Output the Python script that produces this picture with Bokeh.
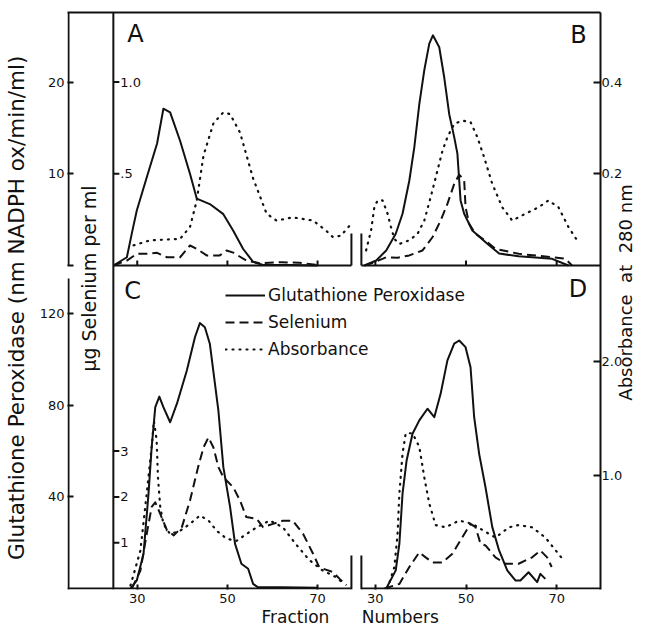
import math
from bokeh.plotting import figure
from bokeh.models import (Range1d, LinearAxis, FixedTicker, Span, Arrow, Label, LabelSet,
                          ColumnDataSource, Legend, LegendItem, PrintfTickFormatter)
from bokeh.core.properties import value
from bokeh.embed import file_html
from bokeh.resources import INLINE

# ---------------- data (fraction number -> value) ----------------
# Panel A
a_gpx_f = [24.7, 27.7, 28.8, 29.9, 32.1, 34.4, 35.8, 37.3, 39.5, 41.7, 43.2, 46.1, 49.1, 51.3, 53.5, 55.7, 57.9, 64.0, 70.0]
a_gpx = [0, 0.9, 3.5, 6.0, 9.6, 13.3, 17.1, 16.7, 13.6, 10.0, 7.3, 6.7, 5.6, 3.8, 1.8, 0.4, 0.05, 0.05, 0.0]
a_se_f = [24.7, 27.7, 29.9, 32.1, 34.4, 36.6, 39.5, 41.7, 43.2, 45.4, 48.3, 49.8, 51.3, 54.2, 57.2, 62.0, 66.0, 70.0]
a_se = [0, 0.027, 0.064, 0.064, 0.069, 0.045, 0.045, 0.109, 0.091, 0.055, 0.055, 0.082, 0.070, 0.027, 0.012, 0.018, 0.015, 0.003]
a_abs_f = [29.2, 32.9, 39.5, 41.7, 43.2, 44.7, 46.9, 49.1, 50.6, 52.8, 55.7, 58.7, 60.9, 64.5, 69.0, 71.9, 73.4, 75.2, 77.1]
a_abs = [0.044, 0.055, 0.058, 0.084, 0.142, 0.24, 0.31, 0.334, 0.33, 0.29, 0.19, 0.113, 0.098, 0.105, 0.098, 0.076, 0.062, 0.065, 0.087]

# Panel B
b_gpx_f = [27.6, 30.2, 32.4, 34.5, 36.0, 37.5, 38.6, 39.7, 40.8, 41.9, 42.7, 44.1, 45.2, 46.3, 47.4, 48.1, 48.5, 48.8, 49.6, 51.4, 54.7, 57.3, 61.6, 69.0, 72.6]
b_gpx = [0, 0.55, 1.64, 3.46, 5.64, 9.27, 12.9, 17.6, 21.3, 24.2, 25.1, 23.8, 20.5, 16.5, 14.0, 12.2, 9.27, 7.1, 5.64, 3.82, 2.37, 1.3, 1.0, 0.73, 0]
b_se_f = [27.6, 29.8, 32.4, 34.9, 37.5, 40.4, 42.6, 44.4, 45.9, 47.4, 48.5, 49.6, 49.9, 50.7, 52.1, 54.7, 56.5, 61.6, 69.0, 71.9, 73.4]
b_se = [0, 0.018, 0.045, 0.042, 0.055, 0.082, 0.154, 0.245, 0.336, 0.445, 0.496, 0.464, 0.318, 0.227, 0.173, 0.127, 0.091, 0.064, 0.045, 0.037, 0]
b_abs_f = [27.96, 29.05, 29.78, 30.5, 31.6, 32.7, 33.45, 34.2, 35.3, 37.5, 39.3, 40.8, 42.2, 43.7, 44.8, 45.9, 47.4, 49.2, 51.0, 52.5, 54.0, 55.8, 58.0, 60.2, 63.1, 66.0, 68.2, 70.4, 72.6, 74.5]
b_abs = [0.033, 0.076, 0.127, 0.142, 0.142, 0.113, 0.084, 0.058, 0.047, 0.055, 0.069, 0.098, 0.149, 0.207, 0.25, 0.28, 0.309, 0.316, 0.313, 0.28, 0.236, 0.178, 0.127, 0.098, 0.113, 0.127, 0.142, 0.127, 0.084, 0.055]

# Panel C
c_gpx_f = [28.5, 29.9, 31.4, 32.5, 33.2, 34.0, 34.9, 35.8, 37.3, 38.8, 41.0, 42.8, 43.9, 45.0, 46.1, 48.0, 49.1, 50.6, 51.7, 53.1, 54.6, 55.7, 56.8, 62.0, 70.0]
c_gpx = [0, 3.5, 15.2, 41.4, 61.7, 79.2, 83.8, 79.2, 72.6, 80.7, 95.2, 109.7, 115.9, 114.1, 106.9, 77.7, 53.0, 35.5, 19.5, 10.8, 8.6, 2.0, 0.5, 0.5, 0.3]
c_se_f = [28.8, 30.7, 32.1, 33.2, 34.0, 35.1, 36.6, 38.1, 39.9, 41.7, 43.5, 44.7, 45.8, 46.9, 48.0, 49.1, 51.3, 52.8, 54.2, 56.5, 57.9, 60.1, 62.3, 64.5, 66.8, 69.0, 70.4, 73.4, 74.9, 76.4]
c_se = [0, 0.39, 1.19, 1.78, 1.88, 1.63, 1.27, 1.16, 1.34, 1.92, 2.65, 3.08, 3.30, 3.08, 2.65, 2.43, 2.21, 1.92, 1.56, 1.52, 1.34, 1.41, 1.48, 1.48, 1.19, 0.76, 0.46, 0.36, 0.21, 0.07]
c_abs_f = [28.5, 30.7, 32.1, 33.2, 33.7, 34.3, 34.6, 35.1, 35.8, 37.3, 39.5, 41.7, 43.9, 45.8, 47.6, 49.8, 52.0, 54.2, 56.5, 59.4, 62.3, 65.2, 68.2, 71.1, 74.1, 75.9]
c_abs = [0.026, 0.335, 0.836, 1.25, 1.48, 1.31, 0.98, 0.72, 0.57, 0.48, 0.51, 0.57, 0.644, 0.60, 0.51, 0.44, 0.42, 0.48, 0.54, 0.60, 0.54, 0.39, 0.25, 0.16, 0.10, 0.04]

# Panel D
d_gpx_f = [32.4, 34.5, 35.3, 36.0, 36.9, 38.2, 39.7, 41.5, 43.0, 44.4, 45.9, 47.4, 48.5, 49.9, 51.0, 51.8, 52.9, 54.3, 55.8, 57.3, 59.1, 60.9, 62.0, 63.8, 65.7, 66.4, 67.5]
d_gpx = [0, 7.9, 19.5, 41.4, 55.9, 67.6, 73.4, 78.5, 74.8, 85.0, 99.6, 106.9, 108.3, 105.4, 96.6, 74.8, 58.8, 44.2, 26.8, 16.6, 7.9, 3.5, 3.5, 7.1, 2.8, 6.4, 4.2]
d_se_f = [32.0, 35.3, 37.5, 39.7, 41.1, 42.6, 44.8, 47.0, 49.2, 51.0, 52.1, 53.2, 54.3, 56.5, 58.7, 61.6, 64.6, 66.4, 67.9, 68.9]
d_se = [0, 0.10, 0.47, 0.79, 0.68, 0.57, 0.57, 0.76, 1.12, 1.41, 1.34, 0.98, 0.94, 0.68, 0.54, 0.54, 0.68, 0.83, 0.68, 0.47]
d_abs_f = [32.7, 34.2, 34.9, 35.3, 36.0, 36.7, 38.2, 39.7, 40.8, 41.9, 43.3, 45.5, 48.5, 51.4, 54.3, 56.5, 59.5, 61.6, 64.6, 67.5, 69.7, 71.5]
d_abs = [0, 0.19, 0.48, 0.84, 1.19, 1.37, 1.37, 1.25, 0.98, 0.75, 0.56, 0.54, 0.60, 0.57, 0.50, 0.45, 0.54, 0.56, 0.54, 0.45, 0.34, 0.25]

# ticks
x_ticks = [30, 50, 70]
top_gpx_ticks = [0, 10, 20]
bot_gpx_ticks = [40, 80, 120]
top_se_ticks = [0.5, 1.0]
top_se_labels = [".5", "1.0"]
bot_se_ticks = [1, 2, 3]
top_abs_ticks = [0.2, 0.4]
bot_abs_ticks = [1.0, 2.0]

# ---------------- scales ----------------
XL = (14.53, 132.76)      # left panels (A, C)
XR = (-37.91, 79.67)      # right panels (B, D)
GB = (-0.437, 251.53)     # bottom-row peroxidase
GT = (-35.33, 27.59)      # top-row peroxidase
SE_F = 20.0               # selenium = peroxidase / 20
AT_F = 50.0               # top absorbance = peroxidase / 50
AB_F = 49.48              # bottom absorbance = peroxidase / 49.5
XL_INNER = 24.70          # inner selenium axis
XL_SPLIT = 77.51          # right edge of A / C
XR_SPLIT = 26.92          # left edge of B / D
GT_STUB = 3.5
GB_STUB = 14.4
GB_LEFT_TOP = 135.4       # upper end of the lower left axis segment

def lin(v, src, dst):
    return dst[0] + (v - src[0]) * (dst[1] - dst[0]) / (src[1] - src[0])

def gt_to_gb(v):
    return lin(v, GT, GB)

def at_to_ab(v):
    return gt_to_gb(v * AT_F) / AB_F

def xr_to_xl(v):
    return lin(v, XR, XL)

FONT = "DejaVu Sans"
INK = "#111111"
DASH = "9 5"
DOT = "1 6"
NB = "\u00a0"

p = figure(width=649, height=632, x_range=Range1d(*XL), y_range=Range1d(*GB),
           x_axis_type=None, y_axis_type=None, output_backend="svg", toolbar_location=None,
           min_border_left=67, min_border_right=47, min_border_top=12, min_border_bottom=43)
p.outline_line_color = None
p.background_fill_color = "white"
p.border_fill_color = "white"
p.extra_x_ranges = {"xr": Range1d(*XR)}
p.extra_y_ranges = {
    "gt": Range1d(*GT),
    "st": Range1d(GT[0] / SE_F, GT[1] / SE_F),
    "at": Range1d(GT[0] / AT_F, GT[1] / AT_F),
    "sb": Range1d(GB[0] / SE_F, GB[1] / SE_F),
    "ab": Range1d(GB[0] / AB_F, GB[1] / AB_F),
}

def style_axis(ax):
    ax.axis_line_width = 2
    ax.axis_line_color = INK
    ax.major_tick_line_width = 2
    ax.major_tick_line_color = INK
    ax.minor_tick_line_color = None
    ax.major_tick_out = 0
    ax.major_label_text_font = FONT
    ax.major_label_text_font_size = "13px"
    ax.major_label_text_color = INK
    ax.axis_label_text_font = FONT
    ax.axis_label_text_font_style = "normal"
    ax.axis_label_text_color = INK

# top border
top_ax = LinearAxis(ticker=FixedTicker(ticks=[]))
style_axis(top_ax)
top_ax.major_label_standoff = 0
p.add_layout(top_ax, "above")

# bottom: fraction numbers of C (left scale) and D (right scale, mapped)
bx_ticks = list(x_ticks) + [xr_to_xl(t) for t in x_ticks]
bx = LinearAxis(ticker=FixedTicker(ticks=bx_ticks),
                major_label_overrides={xr_to_xl(t): str(t) for t in x_ticks})
style_axis(bx)
bx.axis_line_color = None
bx.major_tick_in = 5
bx.major_label_standoff = 4
bx.axis_label = NB * 6 + "Fraction" + NB * 6 + "Numbers"
bx.axis_label_text_font_size = "17px"
bx.axis_label_standoff = 1
p.add_layout(bx, "below")

# left: glutathione peroxidase for both rows
ly_top = [gt_to_gb(t) for t in top_gpx_ticks]
ly = LinearAxis(ticker=FixedTicker(ticks=ly_top + bot_gpx_ticks),
                major_label_overrides={v: (str(t) if t else "") for v, t in zip(ly_top, top_gpx_ticks)})
style_axis(ly)
ly.axis_line_color = None
ly.major_tick_in = 6
ly.major_label_standoff = 3
ly.axis_label = "Glutathione  Peroxidase  (nm NADPH ox/min/ml)"
ly.axis_label_text_font_size = "21.5px"
ly.axis_label_standoff = 8
p.add_layout(ly, "left")

# right: absorbance for both rows
ry_top = [at_to_ab(t) for t in top_abs_ticks]
ry = LinearAxis(y_range_name="ab", ticker=FixedTicker(ticks=ry_top + bot_abs_ticks),
                formatter=PrintfTickFormatter(format="%.1f"),
                major_label_overrides={v: "%.1f" % t for v, t in zip(ry_top, top_abs_ticks)})
style_axis(ry)
ry.major_tick_in = 7
ry.major_label_standoff = 1
ry.axis_label_text_font_size = "18px"
ry.axis_label_standoff = 0
try:
    # read bottom-to-top like the reference, starting near the lower third of the axis
    ry.axis_label_orientation = math.pi / 2
    ry.axis_label_align = "start"
    ry.axis_label = NB * 33 + "Absorbance" + NB * 2 + "at" + NB * 2 + "280 nm"
except Exception:
    ry.axis_label = "Absorbance  at  280 nm"
p.add_layout(ry, "right")

# ---------------- frame pieces ----------------
DXL = 1.0 / 4.525     # one pixel in left-panel fraction units
def edge(x0, y0, x1, y1, xr="default", yr="default"):
    p.add_layout(Arrow(end=None, x_start=x0, y_start=y0, x_end=x1, y_end=y1,
                       line_width=2, line_color=INK, x_range_name=xr, y_range_name=yr))

edge(XL[0] + DXL, 0, XL[0] + DXL, GT[1], yr="gt")              # upper left axis
edge(XL[0] + DXL, GB[0], XL[0] + DXL, GB_LEFT_TOP)             # lower left axis
edge(XL[0], 0, XL_SPLIT, 0)                                    # bottom line of C
edge(XR_SPLIT, 0, XR[1], 0, xr="xr")                           # bottom line of D

p.add_layout(Span(location=XL_INNER, dimension="height", line_width=2, line_color=INK))

seg_kw = dict(line_width=2, line_color=INK)
p.segment(x0=[XL_INNER], y0=[0], x1=[XL_SPLIT], y1=[0], y_range_name="gt", **seg_kw)
p.segment(x0=[XR_SPLIT], y0=[0], x1=[XR[1]], y1=[0], x_range_name="xr", y_range_name="gt", **seg_kw)
p.segment(x0=[XL_SPLIT], y0=[0], x1=[XL_SPLIT], y1=[GT_STUB], y_range_name="gt", **seg_kw)
p.segment(x0=[XR_SPLIT], y0=[0], x1=[XR_SPLIT], y1=[GT_STUB], x_range_name="xr", y_range_name="gt", **seg_kw)
p.segment(x0=[XL_SPLIT], y0=[GB[0]], x1=[XL_SPLIT], y1=[GB_STUB], **seg_kw)
p.segment(x0=[XR_SPLIT], y0=[GB[0]], x1=[XR_SPLIT], y1=[GB_STUB], x_range_name="xr", **seg_kw)

# inner ticks drawn as short rays
ray_kw = dict(length_units="screen", line_width=2, line_color=INK)
p.ray(x=[XL_INNER] * len(top_se_ticks), y=top_se_ticks, length=6, angle=0, y_range_name="st", **ray_kw)
p.ray(x=[XL_INNER] * len(bot_se_ticks), y=bot_se_ticks, length=6, angle=0, y_range_name="sb", **ray_kw)
p.ray(x=x_ticks, y=[0] * 3, length=5, angle=math.pi / 2, y_range_name="gt", **ray_kw)
p.ray(x=x_ticks, y=[0] * 3, length=5, angle=math.pi / 2, x_range_name="xr", y_range_name="gt", **ray_kw)

def labelset(xs, ys, texts, align, baseline, xo=0, yo=0, xr="default", yr="default", size="13px"):
    src = ColumnDataSource(dict(x=xs, y=ys, t=texts))
    p.add_layout(LabelSet(x="x", y="y", text="t", source=src, x_offset=xo, y_offset=yo,
                          text_align=align, text_baseline=baseline,
                          text_font=value(FONT), text_font_size=value(size), text_color=INK,
                          x_range_name=xr, y_range_name=yr))

labelset([XL_INNER] * 2, top_se_ticks, top_se_labels, "left", "middle", xo=7, yr="st")
labelset([XL_INNER] * 3, bot_se_ticks, [str(t) for t in bot_se_ticks], "left", "middle", xo=7, yr="sb")

# ---------------- curves ----------------
solid = dict(line_width=2, line_color=INK, line_join="round")
dashed = dict(line_width=2, line_color=INK, line_dash=DASH, line_join="round")
dotted = dict(line_width=2.2, line_color=INK, line_dash=DOT, line_cap="round")

p.line(a_gpx_f, a_gpx, y_range_name="gt", **solid)
p.line(a_se_f, a_se, y_range_name="st", **dashed)
p.line(a_abs_f, a_abs, y_range_name="at", **dotted)

p.line(b_gpx_f, b_gpx, x_range_name="xr", y_range_name="gt", **solid)
p.line(b_se_f, b_se, x_range_name="xr", y_range_name="st", **dashed)
p.line(b_abs_f, b_abs, x_range_name="xr", y_range_name="at", **dotted)

r_gpx = p.line(c_gpx_f, c_gpx, **solid)
r_se = p.line(c_se_f, c_se, y_range_name="sb", **dashed)
r_abs = p.line(c_abs_f, c_abs, y_range_name="ab", **dotted)

p.line(d_gpx_f, d_gpx, x_range_name="xr", **solid)
p.line(d_se_f, d_se, x_range_name="xr", y_range_name="sb", **dashed)
p.line(d_abs_f, d_abs, x_range_name="xr", y_range_name="ab", **dotted)

legend = Legend(items=[LegendItem(label="Glutathione Peroxidase", renderers=[r_gpx]),
                       LegendItem(label="Selenium", renderers=[r_se]),
                       LegendItem(label="Absorbance", renderers=[r_abs])],
                location=(158, 230), glyph_width=40, glyph_height=20, label_height=20,
                spacing=7, padding=0, margin=0, label_standoff=3,
                label_text_font=FONT, label_text_font_size="17px", label_text_color=INK,
                border_line_color=None, background_fill_alpha=0)
p.add_layout(legend)

# ---------------- texts inside the frame ----------------
def lab(text, x, y, size, xr="default", yr="default", angle=0.0, align="center"):
    p.add_layout(Label(x=x, y=y, text=text, x_range_name=xr, y_range_name=yr, angle=angle,
                       text_align=align, text_baseline="middle", text_font=FONT,
                       text_font_size=size, text_color=INK))

lab("A", 27.8, 25.2, "24px", yr="gt", align="left")
lab("B", 74.8, 25.1, "24px", xr="xr", yr="gt")
lab("C", 29.0, 129.7, "24px")
lab("D", 74.7, 130.8, "24px", xr="xr")
lab("\u00b5g Selenium  per  ml", 19.4, 138.0, "19px", angle=math.pi / 2)

open("out.html", "w").write(file_html(p, INLINE))
